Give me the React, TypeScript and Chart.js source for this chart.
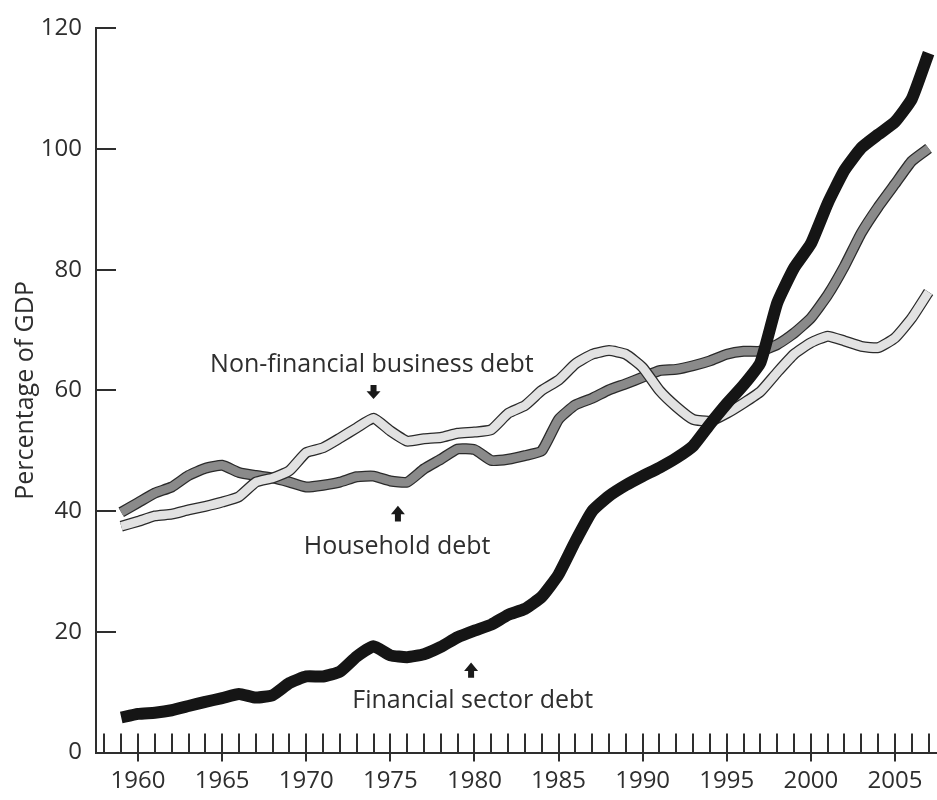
import React, { useEffect, useRef } from "react";
import { Chart, registerables } from "chart.js";

Chart.register(...registerables);

// ---------- data ----------
const years = [
  1959, 1960, 1961, 1962, 1963, 1964, 1965, 1966, 1967, 1968,
  1969, 1970, 1971, 1972, 1973, 1974, 1975, 1976, 1977, 1978,
  1979, 1980, 1981, 1982, 1983, 1984, 1985, 1986, 1987, 1988,
  1989, 1990, 1991, 1992, 1993, 1994, 1995, 1996, 1997, 1998,
  1999, 2000, 2001, 2002, 2003, 2004, 2005, 2006, 2007,
];

const financialSectorDebt = [
  5.8, 6.4, 6.6, 7.0, 7.7, 8.4, 9.0, 9.7, 9.1, 9.5,
  11.5, 12.6, 12.6, 13.4, 15.9, 17.6, 16.1, 15.8, 16.3, 17.5,
  19.1, 20.2, 21.2, 22.8, 23.8, 25.8, 29.5, 35.0, 40.0, 42.5,
  44.3, 45.8, 47.2, 48.8, 50.8, 54.4, 57.8, 60.9, 64.6, 74.5,
  80.3, 84.3, 91.0, 96.5, 100.2, 102.4, 104.5, 108.3, 115.9,
];

const householdDebt = [
  39.8, 41.4, 43.0, 44.0, 45.9, 47.1, 47.6, 46.4, 45.9, 45.5,
  44.8, 44.0, 44.3, 44.8, 45.7, 45.8, 45.0, 44.8, 47.0, 48.6,
  50.3, 50.2, 48.4, 48.6, 49.2, 50.0, 55.2, 57.6, 58.7, 60.1,
  61.1, 62.2, 63.3, 63.5, 64.1, 64.9, 66.0, 66.5, 66.5, 67.6,
  69.5, 72.0, 75.8, 80.6, 86.1, 90.4, 94.2, 98.0, 100.1,
];

const nonFinancialBusinessDebt = [
  37.5, 38.3, 39.2, 39.5, 40.2, 40.8, 41.5, 42.4, 44.8, 45.5,
  46.7, 49.7, 50.5, 52.1, 53.8, 55.4, 53.3, 51.6, 52.0, 52.2,
  52.9, 53.1, 53.5, 56.2, 57.5, 60.0, 61.7, 64.4, 66.0, 66.6,
  66.0, 63.8, 60.0, 57.3, 55.2, 54.9, 56.2, 57.9, 59.8, 63.0,
  66.0, 67.9, 69.0, 68.2, 67.3, 67.1, 68.7, 72.0, 76.3,
];

const xTickLabels = [1960, 1965, 1970, 1975, 1980, 1985, 1990, 1995, 2000, 2005];
const yTickValues = [0, 20, 40, 60, 80, 100, 120];
const xRange = [1957.5, 2007.5];
const yAxisTitle = "Percentage of GDP";

const annotationTexts = ["Non-financial business debt", "Household debt", "Financial sector debt"];
const annotationYears = [1973.9, 1975.4, 1979.9];
const annotationValues = [63.0, 32.9, 7.4];
const arrowYears = [1974.0, 1975.45, 1979.8];
const arrowTipValues = [58.6, 40.9, 14.9];
const arrowTailValues = [60.9, 38.3, 12.4];

const FONT = "'Open Sans', 'Noto Sans', sans-serif";
const INK = "#2e2e2e";

const toPoints = (vals: number[]) => years.map((yr, i) => ({ x: yr, y: vals[i] }));

const decorPlugin = {
  id: "decor",
  beforeDatasetsDraw(chart: any) {
    const { ctx, scales } = chart;
    const x = scales.x;
    const y = scales.y;
    ctx.save();
    ctx.strokeStyle = INK;
    ctx.lineWidth = 2;
    const axisY = y.getPixelForValue(0);
    ctx.beginPath();
    for (let yr = Math.ceil(x.min); yr <= Math.floor(x.max); yr++) {
      const px = Math.round(x.getPixelForValue(yr));
      const major = xTickLabels.includes(yr);
      ctx.moveTo(px, axisY - 19);
      ctx.lineTo(px, axisY + (major ? 9 : 0));
    }
    const axisX = x.getPixelForValue(x.min);
    for (const v of yTickValues) {
      if (v === 0) continue;
      const py = Math.round(y.getPixelForValue(v));
      ctx.moveTo(axisX, py);
      ctx.lineTo(axisX + 20, py);
    }
    ctx.stroke();
    ctx.restore();
  },
  afterDatasetsDraw(chart: any) {
    const { ctx, scales } = chart;
    const x = scales.x;
    const y = scales.y;
    ctx.save();
    ctx.fillStyle = INK;
    ctx.font = `25px ${FONT}`;
    ctx.textAlign = "center";
    ctx.textBaseline = "alphabetic";
    annotationTexts.forEach((t, i) => {
      ctx.fillText(t, x.getPixelForValue(annotationYears[i]), y.getPixelForValue(annotationValues[i]));
    });
    ctx.fillStyle = "#1a1a1a";
    arrowYears.forEach((yr, i) => {
      const cx = x.getPixelForValue(yr);
      const tip = y.getPixelForValue(arrowTipValues[i]);
      const tail = y.getPixelForValue(arrowTailValues[i]);
      const dir = tip > tail ? 1 : -1;
      const len = Math.abs(tip - tail);
      const head = len * 0.55;
      const mid = tip - dir * head;
      ctx.beginPath();
      ctx.moveTo(cx - 3, tail);
      ctx.lineTo(cx + 3, tail);
      ctx.lineTo(cx + 3, mid);
      ctx.lineTo(cx + 7, mid);
      ctx.lineTo(cx, tip);
      ctx.lineTo(cx - 7, mid);
      ctx.lineTo(cx - 3, mid);
      ctx.closePath();
      ctx.fill();
    });
    ctx.restore();
  },
};

export default function App() {
  const canvasRef = useRef<HTMLCanvasElement | null>(null);

  useEffect(() => {
    const canvas = canvasRef.current;
    if (!canvas) return;
    const common = {
      pointRadius: 0,
      pointHoverRadius: 0,
      tension: 0.15,
      fill: false,
      borderCapStyle: "butt",
      borderJoinStyle: "round",
    };
    const chart = new Chart(canvas, {
      type: "line",
      data: {
        datasets: [
          { ...common, label: "Financial sector debt", data: toPoints(financialSectorDebt), borderColor: "#151515", borderWidth: 12, order: 0 },
          { ...common, label: "Non-financial business debt", data: toPoints(nonFinancialBusinessDebt), borderColor: "#e2e2e2", borderWidth: 8.5, order: 1 },
          { ...common, label: "Non-financial business debt (edge)", data: toPoints(nonFinancialBusinessDebt), borderColor: "#2a2a2a", borderWidth: 11, order: 2 },
          { ...common, label: "Household debt", data: toPoints(householdDebt), borderColor: "#8a8a8a", borderWidth: 8.5, order: 3 },
          { ...common, label: "Household debt (edge)", data: toPoints(householdDebt), borderColor: "#2a2a2a", borderWidth: 11, order: 4 },
        ] as any,
      },
      options: {
        responsive: false,
        animation: false,
        devicePixelRatio: 1,
        layout: { padding: { top: 16, right: 0, left: 0, bottom: 0 } },
        plugins: {
          legend: { display: false },
          tooltip: { enabled: false },
        },
        scales: {
          x: {
            type: "linear",
            min: xRange[0],
            max: xRange[1],
            grid: { display: false, drawTicks: false },
            border: { display: true, color: INK, width: 2 },
            afterBuildTicks: (s: any) => {
              s.ticks = xTickLabels.map((v) => ({ value: v }));
            },
            afterFit: (s: any) => {
              s.height = 47.5;
            },
            ticks: {
              callback: (v: any) => String(v),
              font: { family: FONT, size: 24 },
              color: INK,
              padding: 14,
              maxRotation: 0,
              autoSkip: false,
            },
          },
          y: {
            type: "linear",
            min: 0,
            max: 120,
            grid: { display: false, drawTicks: false },
            border: { display: true, color: INK, width: 2 },
            afterBuildTicks: (s: any) => {
              s.ticks = yTickValues.map((v) => ({ value: v }));
            },
            afterFit: (s: any) => {
              s.width = 96;
            },
            ticks: {
              font: { family: FONT, size: 24 },
              color: INK,
              padding: 14,
            },
            title: {
              display: true,
              text: yAxisTitle,
              font: { family: FONT, size: 25 },
              color: INK,
              padding: { top: 11, bottom: 0 },
            },
          },
        },
      } as any,
      plugins: [decorPlugin],
    });
    return () => chart.destroy();
  }, []);

  return (
    <div style={{ position: "absolute", left: 0, top: 0, width: 937, height: 800, background: "#fff" }}>
      <canvas ref={canvasRef} width={937} height={800} style={{ width: 937, height: 800, display: "block" }} />
    </div>
  );
}
